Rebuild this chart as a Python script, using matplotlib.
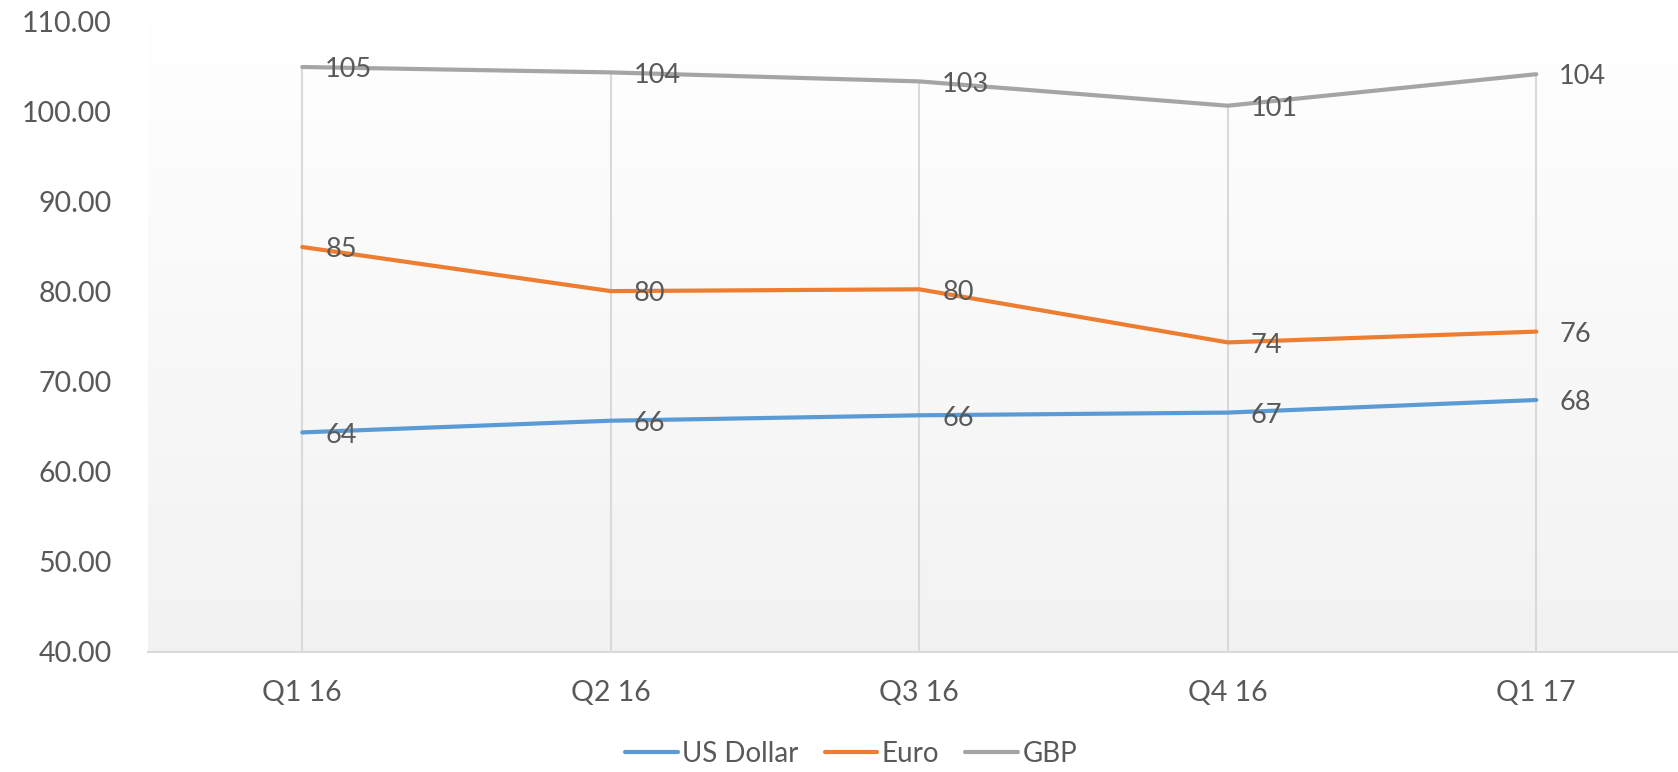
import numpy as np
import matplotlib
matplotlib.use('Agg')
import matplotlib.pyplot as plt

quarters = ['Q1 16', 'Q2 16', 'Q3 16', 'Q4 16', 'Q1 17']
usd = [64.4, 65.7, 66.3, 66.6, 68.0]
eur = [85.0, 80.1, 80.3, 74.4, 75.6]
gbp = [105.0, 104.4, 103.4, 100.7, 104.2]

series = [('US Dollar', usd, '#5b9bd5'),
          ('Euro', eur, '#ed7d31'),
          ('GBP', gbp, '#a5a5a5')]

text_col = '#595959'
plt.rcParams['font.family'] = ['Lato', 'DejaVu Sans']

W, H = 1678, 772
fig = plt.figure(figsize=(W / 100, H / 100), dpi=100)
ax = fig.add_axes([148 / W, (H - 652) / H, 5 * 308.5 / W, (652 - 22) / H])

x = np.arange(len(quarters))

# gradient plot-area fill, white on top to light grey at the bottom
grad = np.linspace(1.0, 0.949, 256).reshape(-1, 1)
ax.imshow(np.dstack([grad, grad, grad]), extent=[-0.5, 4.5, 40, 110],
          aspect='auto', zorder=0, origin='upper')

# drop lines from the highest series down to the axis
tops = np.max([usd, eur, gbp], axis=0)
ax.vlines(x, 40, tops, color='#d9d9d9', lw=1.5, zorder=1)

for name, vals, col in series:
    ax.plot(x, vals, color=col, lw=3, label=name, zorder=3,
            solid_capstyle='round', solid_joinstyle='round')
    for xi, v in zip(x, vals):
        ax.annotate(f'{v:.0f}', (xi, v), xytext=(16.5, -2), textcoords='offset points',
                    ha='left', va='center', fontsize=19.5, color=text_col, zorder=4)

ax.set_xlim(-0.5, 4.5)
ax.set_ylim(40, 110)
ax.set_yticks(np.arange(40, 111, 10))
ax.set_yticklabels([f'{v:.2f}' for v in np.arange(40, 111, 10)])
ax.set_xticks(x)
ax.set_xticklabels(quarters)
ax.tick_params(length=0, labelsize=20.5, colors=text_col)
ax.tick_params(axis='y', pad=26)
ax.tick_params(axis='x', pad=20)

for s in ['top', 'right', 'left']:
    ax.spines[s].set_visible(False)
ax.spines['bottom'].set_color('#d9d9d9')
ax.spines['bottom'].set_linewidth(1.5)

fig.legend(loc='center', bbox_to_anchor=(851 / W, (H - 754) / H), ncol=3, frameon=False,
           fontsize=20, labelcolor=text_col, handlelength=1.9, handletextpad=0.15,
           columnspacing=0.95)

fig.savefig('out.png', dpi=100, facecolor='white')
